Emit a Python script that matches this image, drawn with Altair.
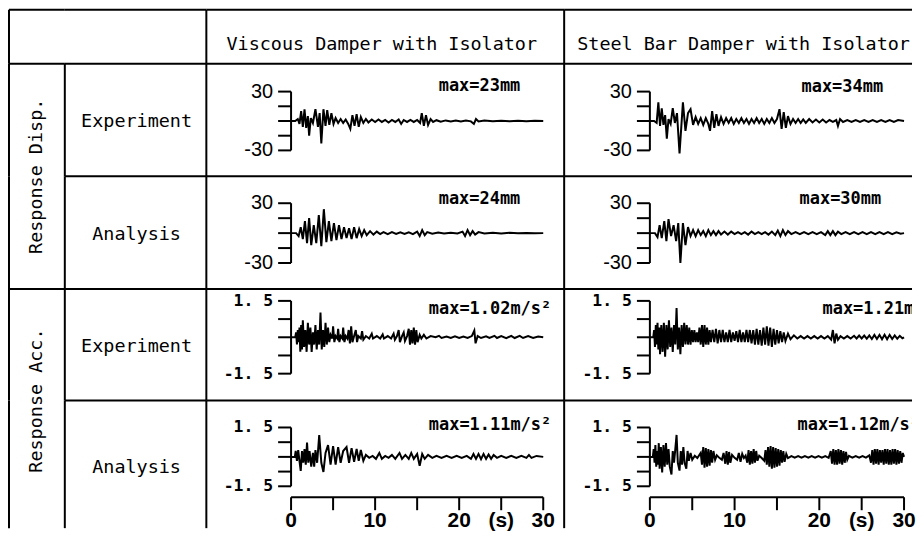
import altair as alt
import pandas as pd

# ---------------- data ----------------
col_titles = ["Viscous Damper with Isolator", "Steel Bar Damper with Isolator"]
group_titles = ["Response Disp.", "Response Acc."]
row_titles = ["Experiment", "Analysis"]

disp_ticks = [-30, -15, 0, 15, 30]
disp_tick_labels = ["-30", "", "", "", "30"]
acc_ticks = [-1.5, -0.75, 0, 0.75, 1.5]
acc_tick_labels = ["-1. 5", "", "", "", "1. 5"]
time_ticks = [0, 5, 10, 15, 20, 25, 30]
time_labels = ["0", "", "10", "", "20", "(s)", "30"]

max_text = [["max=23mm", "max=34mm"],
            ["max=24mm", "max=30mm"],
            ["max=1.02m/s²", "max=1.21m/s²"],
            ["max=1.11m/s²", "max=1.12m/s²"]]

# (time s, value) — displacement in mm
disp_visc_exp = [(0,0),(0.5,0),(0.8,2),(1.0,-3),(1.2,10),(1.4,-6),(1.6,12),(1.8,-7),(2.0,5),(2.15,-15),(2.35,3),(2.6,-2),(2.9,12),(3.2,-6),(3.4,8),(3.6,-23),(3.85,12),(4.1,-5),(4.3,11),(4.55,-4),(4.8,8),(5.05,-3),(5.3,3),(5.6,-2),(5.9,2),(6.2,-2),(6.5,1.5),(6.8,-3),(7.05,-8),(7.3,6),(7.55,-5),(7.8,7),(8.05,-6),(8.3,4),(8.6,-2),(8.9,2),(9.2,-1.5),(9.6,1.5),(10.0,-1),(10.4,1.5),(10.8,-1),(11.2,1),(11.6,-1.5),(12.0,1),(12.4,-1),(12.8,1.5),(13.1,-3),(13.4,1),(13.8,-1),(14.2,1),(14.6,-1),(15.0,1),(15.35,-2),(15.55,8),(15.8,-5),(16.05,6),(16.3,-4),(16.6,2),(16.9,-1),(17.3,0.8),(17.8,-0.8),(18.4,0.6),(19.0,-0.5),(19.6,0.5),(20.2,-0.5),(20.8,0.4),(21.4,-0.4),(21.75,-3),(22.0,2),(22.3,-0.5),(23.0,0.4),(24.0,-0.3),(25.0,0.3),(26.0,-0.3),(27.0,0.3),(28.0,-0.2),(29.0,0.2),(30.0,0)]

disp_steel_exp = [(0,0),(0.5,0),(0.8,-2),(1.0,19),(1.2,-5),(1.4,13),(1.6,-4),(1.8,6),(2.0,-18),(2.2,2),(2.45,-3),(2.7,13),(2.95,-2),(3.2,8),(3.5,-33),(3.9,19),(4.2,-10),(4.5,8),(4.8,12),(5.1,-4),(5.4,4),(5.7,-3),(6.0,3),(6.3,-4),(6.6,3),(6.9,-3),(7.1,-10),(7.35,10),(7.6,-7),(7.85,7),(8.1,-5),(8.4,4),(8.7,-3),(9.0,3),(9.3,-2),(9.6,3),(9.9,-3),(10.2,2),(10.5,-2),(10.8,3),(11.1,-2),(11.4,2),(11.7,-3),(12.0,2),(12.3,-2),(12.6,3),(12.9,-2),(13.2,2),(13.5,-3),(13.8,2),(14.1,-2),(14.4,3),(14.7,-2),(15.0,2),(15.3,12),(15.55,-8),(15.8,9),(16.05,-7),(16.3,5),(16.6,-3),(16.9,2),(17.2,-2),(17.5,2),(17.8,-2),(18.1,1.5),(18.4,-2),(18.8,2),(19.2,-1.5),(19.6,1.5),(20.0,-1.5),(20.4,1.5),(20.8,-1.5),(21.2,1),(21.6,-1),(22.0,1),(22.2,-5),(22.45,2),(22.8,-1),(23.3,1),(23.8,-1),(24.3,1),(24.8,-1),(25.3,1),(25.8,-1),(26.3,1),(26.8,-1),(27.3,1),(27.8,-1),(28.3,1),(28.8,-1),(29.3,1),(30.0,0)]

disp_visc_ana = [(0,0),(0.6,0),(0.9,-3),(1.15,6),(1.4,-6),(1.65,12),(1.9,-10),(2.15,15),(2.4,-12),(2.7,8),(3.0,-10),(3.3,18),(3.6,-13),(3.9,24),(4.2,-9),(4.5,12),(4.8,-8),(5.1,10),(5.4,-7),(5.7,8),(6.0,-6),(6.3,6),(6.6,-5),(6.9,5),(7.2,-6),(7.5,6),(7.8,-5),(8.1,4),(8.4,-3),(8.7,3),(9.0,-2),(9.4,2),(9.8,-1.5),(10.2,1.5),(10.6,-1),(11.0,1),(11.5,-1),(12.0,1),(12.5,-0.8),(13.0,0.8),(13.5,-0.8),(14.0,0.8),(14.5,-1),(15.0,1.5),(15.3,-3),(15.6,3),(15.9,-2),(16.2,1),(16.8,-0.5),(17.5,0.5),(18.2,-0.4),(19.0,0.4),(19.8,-0.4),(20.4,1.5),(20.7,-3),(21.0,3),(21.3,-2),(21.6,2),(21.9,-1.5),(22.3,1),(23.0,-0.4),(24.0,0.3),(25,-0.3),(26,0.3),(27,-0.2),(28,0.2),(29,-0.2),(30,0)]

disp_steel_ana = [(0,0),(0.6,0),(0.9,-4),(1.15,8),(1.4,-5),(1.7,12),(1.95,-8),(2.2,14),(2.5,-3),(2.8,8),(3.1,-8),(3.35,10),(3.6,-30),(3.9,10),(4.2,-12),(4.5,6),(4.8,-3),(5.1,3),(5.4,-3),(5.7,3),(6.0,-2),(6.3,2),(6.6,-3),(6.9,3),(7.2,-2),(7.5,2),(7.8,-2),(8.1,2),(8.4,-1.5),(8.8,1.5),(9.2,-1.5),(9.6,1.5),(10.0,-1),(10.4,1),(10.8,-1),(11.2,1),(11.6,-1.5),(12.0,1.5),(12.4,-1),(12.8,1),(13.2,-1),(13.6,1),(14.0,-1.5),(14.4,1.5),(14.8,-2),(15.1,2.5),(15.4,-3),(15.7,3),(16.0,-2),(16.3,2),(16.7,-1),(17.2,1),(17.7,-1),(18.2,1),(18.7,-1),(19.2,1),(19.7,-1),(20.2,1),(20.7,-2),(21.0,2),(21.3,-2),(21.6,2),(21.9,-2),(22.2,1.5),(22.6,-1),(23.1,1),(23.6,-1),(24.1,1),(24.6,-1),(25.1,1),(25.6,-1),(26.1,1),(26.6,-1),(27.1,1),(27.6,-1),(28.1,1),(28.6,-1),(29.1,0.8),(29.6,-0.5),(30,0)]

# (time s, value) — acceleration in m/s²
acc_visc_exp = [(0,0),(0.5,0),(0.6,0.2),(0.7,-0.3),(0.8,0.3),(0.9,-0.2),(1.0,0.4),(1.1,-0.6),(1.2,0.5),(1.3,-0.5),(1.4,0.7),(1.55,-0.4),(1.7,0.3),(1.85,-0.6),(2.0,0.6),(2.15,-0.3),(2.3,0.4),(2.45,-0.6),(2.6,0.2),(2.75,-0.3),(2.9,0.5),(3.05,-0.5),(3.2,0.3),(3.35,-0.3),(3.5,1.02),(3.65,-0.5),(3.8,0.3),(3.95,-0.4),(4.1,0.6),(4.25,-0.3),(4.4,0.4),(4.55,-0.2),(4.7,0.1),(4.9,-0.05),(5.0,0.45),(5.15,-0.2),(5.3,0.05),(5.5,-0.05),(5.6,0.35),(5.75,-0.2),(5.9,0.05),(6.1,-0.05),(6.2,0.4),(6.35,-0.2),(6.5,0.05),(6.7,-0.05),(6.85,0.3),(7.0,-0.25),(7.15,0.45),(7.3,-0.2),(7.5,0.05),(7.7,0.3),(7.85,-0.2),(8.0,0.05),(8.3,-0.05),(8.45,0.25),(8.6,-0.1),(8.9,0.05),(9.3,-0.05),(9.6,0.15),(9.75,-0.05),(10.2,0.05),(10.6,-0.05),(10.9,0.12),(11.05,-0.05),(11.5,0.05),(11.9,-0.05),(12.2,0.15),(12.35,-0.1),(12.6,0.05),(12.8,0.3),(12.95,-0.2),(13.2,0.05),(13.4,0.2),(13.55,-0.15),(13.8,0.05),(14.0,0.35),(14.15,-0.3),(14.3,0.3),(14.45,-0.25),(14.6,0.4),(14.75,-0.3),(14.9,0.3),(15.05,-0.2),(15.3,0.1),(15.5,-0.05),(15.8,0.1),(16.1,-0.05),(16.6,0.05),(17.2,0),(17.6,0.06),(17.9,-0.03),(18.5,0.03),(19.0,-0.03),(19.5,0.04),(20.0,-0.03),(20.5,0.03),(21.0,-0.03),(21.5,0.05),(21.8,0.28),(21.95,-0.25),(22.2,0.05),(22.6,-0.03),(23.2,0.04),(23.6,-0.03),(24.2,0.06),(24.5,-0.03),(25.0,0.05),(25.6,-0.04),(26.2,0.06),(26.6,-0.03),(27.2,0.06),(27.6,-0.03),(28.2,0.05),(28.8,-0.03),(29.4,0.03),(30,0)]

acc_steel_exp = [(0,0),(0.4,0),(0.5,0.3),(0.6,-0.4),(0.7,0.5),(0.8,-0.3),(0.9,0.6),(1.0,-0.5),(1.1,0.4),(1.2,-0.7),(1.35,0.5),(1.5,-0.6),(1.65,0.6),(1.8,-0.8),(1.95,0.5),(2.1,-0.5),(2.25,0.7),(2.4,-0.4),(2.55,0.4),(2.7,-0.6),(2.85,0.5),(3.0,-0.3),(3.15,1.21),(3.3,-0.5),(3.45,0.4),(3.6,-0.7),(3.75,0.5),(3.9,-0.4),(4.05,0.6),(4.2,-0.3),(4.35,0.5),(4.5,-0.3),(4.65,0.4),(4.8,-0.3),(4.95,0.3),(5.1,-0.2),(5.25,0.3),(5.4,-0.2),(5.55,0.2),(5.7,-0.2),(5.85,0.4),(6.0,-0.3),(6.15,0.5),(6.3,-0.4),(6.45,0.5),(6.6,-0.3),(6.75,0.4),(6.9,-0.3),(7.05,0.3),(7.2,-0.2),(7.4,0.3),(7.6,-0.2),(7.8,0.35),(8.0,-0.25),(8.2,0.3),(8.4,-0.2),(8.6,0.3),(8.8,-0.2),(9.0,0.2),(9.2,-0.2),(9.4,0.3),(9.6,-0.2),(9.8,0.2),(10.0,-0.15),(10.2,0.25),(10.4,-0.2),(10.6,0.3),(10.8,-0.2),(11.0,0.2),(11.2,-0.2),(11.4,0.3),(11.6,-0.2),(11.8,0.3),(12.0,-0.25),(12.2,0.3),(12.4,-0.3),(12.6,0.35),(12.8,-0.3),(13.0,0.3),(13.2,-0.35),(13.4,0.4),(13.6,-0.3),(13.8,0.45),(14.0,-0.35),(14.2,0.4),(14.4,-0.4),(14.6,0.35),(14.8,-0.3),(15.0,0.3),(15.2,-0.25),(15.4,0.25),(15.6,-0.2),(15.8,0.2),(16.0,-0.15),(16.3,0.15),(16.6,-0.08),(17.0,0.08),(17.4,-0.05),(17.8,0.05),(18.2,-0.05),(18.6,0.05),(19.0,-0.05),(19.4,0.05),(19.8,-0.05),(20.2,0.05),(20.6,-0.05),(21.0,0.05),(21.4,-0.1),(21.6,0.3),(21.8,-0.25),(22.0,0.15),(22.2,-0.1),(22.5,0.05),(22.9,-0.05),(23.3,0.05),(23.7,-0.05),(24.1,0.06),(24.4,-0.05),(24.7,0.07),(25.0,-0.05),(25.3,0.07),(25.6,-0.06),(25.9,0.08),(26.2,-0.07),(26.5,0.1),(26.8,-0.07),(27.1,0.1),(27.4,-0.08),(27.7,0.1),(28.0,-0.08),(28.3,0.1),(28.6,-0.07),(28.9,0.08),(29.2,-0.06),(29.5,0.06),(29.8,-0.04),(30,0)]

acc_visc_ana = [(0,0),(0.45,0),(0.55,0.3),(0.7,-0.2),(0.85,0.35),(1.0,-0.2),(1.15,-0.72),(1.3,0.3),(1.45,-0.3),(1.6,0.4),(1.75,-0.4),(1.9,0.73),(2.05,-0.3),(2.2,0.3),(2.4,-0.5),(2.6,0.2),(2.75,-0.5),(2.9,0.35),(3.1,-0.3),(3.35,1.11),(3.6,-0.3),(3.85,-0.77),(4.1,0.2),(4.4,0.6),(4.7,-0.4),(5.0,0.55),(5.3,-0.4),(5.6,0.5),(5.9,-0.3),(6.2,0.3),(6.6,0.5),(6.9,-0.3),(7.2,0.45),(7.5,-0.25),(7.8,0.4),(8.05,-0.2),(8.3,0.35),(8.6,-0.2),(8.9,0.1),(9.3,-0.05),(9.7,0.05),(10.1,-0.1),(10.5,0.2),(10.8,-0.1),(11.2,0.05),(11.6,-0.05),(12.0,0.1),(12.4,-0.1),(12.9,0.2),(13.2,-0.1),(13.6,0.1),(14.0,-0.1),(14.3,0.2),(14.6,-0.1),(15.0,0.15),(15.3,-0.45),(15.6,0.15),(15.9,-0.1),(16.3,0.1),(16.8,-0.05),(17.3,0.05),(17.9,-0.05),(18.5,0.05),(19.1,-0.05),(19.7,0.05),(20.3,-0.05),(20.9,0.05),(21.4,-0.1),(21.7,0.15),(22.0,-0.1),(22.3,0.15),(22.6,-0.12),(22.9,0.15),(23.2,-0.1),(23.5,0.12),(23.8,-0.1),(24.1,0.1),(24.5,-0.05),(25.0,0.05),(25.6,-0.05),(26.2,0.05),(26.8,-0.05),(27.4,0.05),(28.0,-0.05),(28.3,0.1),(28.6,-0.05),(29.2,0.05),(30,0)]

acc_steel_ana = [(0,0),(0.35,0),(0.45,0.4),(0.55,-0.3),(0.65,0.6),(0.75,-0.5),(0.85,0.3),(0.95,-0.4),(1.05,0.7),(1.15,-0.6),(1.3,0.5),(1.45,-0.8),(1.6,0.6),(1.75,-0.5),(1.9,0.7),(2.05,-0.4),(2.2,0.4),(2.35,-0.5),(2.55,-0.9),(2.7,0.3),(2.85,-0.3),(3.0,0.4),(3.15,1.12),(3.3,-0.3),(3.5,-0.7),(3.65,0.3),(3.8,-0.4),(3.95,0.5),(4.1,-0.3),(4.3,-0.6),(4.45,0.3),(4.6,-0.2),(4.8,0.2),(5.0,-0.15),(5.3,0.06),(5.6,-0.06),(5.85,0.1),(6.0,0.2),(6.15,-0.4),(6.3,0.5),(6.45,-0.55),(6.6,0.45),(6.75,-0.5),(6.9,0.4),(7.05,-0.45),(7.2,0.35),(7.35,-0.3),(7.5,0.3),(7.7,-0.15),(7.9,0.08),(8.2,-0.05),(8.5,-0.15),(8.7,0.2),(8.9,-0.35),(9.05,0.3),(9.2,-0.4),(9.35,0.25),(9.5,-0.3),(9.7,0.1),(10.0,-0.05),(10.3,-0.15),(10.5,0.2),(10.7,-0.25),(10.9,0.15),(11.1,-0.06),(11.3,0.06),(11.5,-0.3),(11.65,0.35),(11.8,-0.4),(11.95,0.3),(12.1,-0.35),(12.25,0.4),(12.4,-0.3),(12.55,0.3),(12.7,-0.2),(12.9,0.06),(13.2,-0.06),(13.5,-0.2),(13.65,0.35),(13.8,-0.4),(13.95,0.5),(14.1,-0.5),(14.25,0.55),(14.4,-0.6),(14.55,0.5),(14.7,-0.55),(14.85,0.45),(15.0,-0.5),(15.15,0.4),(15.3,-0.45),(15.45,0.35),(15.6,-0.3),(15.75,0.3),(15.9,-0.25),(16.1,0.15),(16.3,-0.06),(16.7,0.04),(17.1,-0.04),(17.5,0.04),(17.9,-0.04),(18.3,0.04),(18.7,-0.04),(19.1,0.04),(19.5,-0.04),(19.9,0.04),(20.3,-0.04),(20.7,0.04),(21.1,-0.05),(21.35,0.3),(21.5,-0.35),(21.65,0.4),(21.8,-0.4),(21.95,0.35),(22.1,-0.4),(22.25,0.4),(22.4,-0.35),(22.55,0.35),(22.7,-0.4),(22.85,0.3),(23.0,-0.3),(23.15,0.25),(23.3,-0.15),(23.5,0.05),(23.9,-0.04),(24.3,0.04),(24.7,-0.04),(25.1,0.04),(25.5,-0.04),(25.9,0.08),(26.1,-0.3),(26.25,0.35),(26.4,-0.4),(26.55,0.4),(26.7,-0.35),(26.85,0.4),(27.0,-0.4),(27.15,0.35),(27.3,-0.3),(27.45,0.35),(27.6,-0.4),(27.75,0.4),(27.9,-0.35),(28.05,0.4),(28.2,-0.4),(28.35,0.35),(28.5,-0.4),(28.65,0.4),(28.8,-0.35),(28.95,0.4),(29.1,-0.4),(29.25,0.35),(29.4,-0.35),(29.55,0.3),(29.7,-0.3),(29.85,0.2),(30,0)]

series = [[disp_visc_exp, disp_steel_exp],
          [disp_visc_ana, disp_steel_ana],
          [acc_visc_exp, acc_steel_exp],
          [acc_visc_ana, acc_steel_ana]]

# ---------------- layout / style ----------------
INK = "#000000"
LW = 2
MONO = "DejaVu Sans Mono"
NARROW = "Liberation Sans Narrow, Liberation Sans, sans-serif"

COLW = [56, 142, 359, 349]
HEAD_H = 54
ROW_H = [113, 113, 112, 128]
P0 = [85, 86]      # pixel of t=0 inside a waveform cell
P30 = [338, 341]   # pixel of t=30
YPX = [(28, 87), (27, 87), (12, 85), (27, 86)]   # pixel of +max / -max per row
ANN = [[(315, 22), (320, 23)], [(315, 23), (318, 23)],
       [(346, 20), (382, 20)], [(346, 25), (357, 25)]]
XAXIS_PX = 97
TICK = 13
ROWLBL_Y = [58, 58, 57, 67]
GROUP_Y = [113, 112]

one = pd.DataFrame({"k": [0]})


def borders(W, H, top=True, left=True):
    out = []
    if top:
        out.append(alt.Chart(one).mark_rule(color=INK, strokeWidth=LW).encode(
            x=alt.value(0), x2=alt.value(W), y=alt.value(0)))
    if left:
        out.append(alt.Chart(one).mark_rule(color=INK, strokeWidth=LW).encode(
            x=alt.value(0), y=alt.value(0), y2=alt.value(H)))
    return out


def text_cell(label, W, H, x=0, y=0, angle=0, top=True, left=True):
    layers = borders(W, H, top, left)
    if label:
        d = pd.DataFrame({"label": [label]})
        layers.append(alt.Chart(d).mark_text(
            font=MONO, fontSize=18.5, angle=angle, color=INK,
            align="center", baseline="middle").encode(
            x=alt.value(x), y=alt.value(y), text="label:N"))
    return alt.layer(*layers).properties(width=W, height=H)


def wave_cell(r, c):
    W, H = COLW[2 + c], ROW_H[r]
    p0, p30 = P0[c], P30[c]
    disp = r < 2
    ticks = disp_ticks if disp else acc_ticks
    labs = disp_tick_labels if disp else acc_tick_labels
    ymax = ticks[-1]
    k = 30.0 / (p30 - p0)
    xdom = [-p0 * k, (W - p0) * k]
    ytop, ybot = YPX[r]
    u = 2 * ymax / (ybot - ytop)
    ydom = [-ymax - (H - ybot) * u, ymax + ytop * u]
    xs = alt.Scale(domain=xdom, nice=False, zero=False)
    ys = alt.Scale(domain=ydom, nice=False, zero=False)

    def X0():
        return alt.XDatum(0, type="quantitative", scale=xs, axis=None)

    df = pd.DataFrame(series[r][c], columns=["t", "v"])
    line = alt.Chart(df).mark_line(color=INK, strokeWidth=2, clip=True).encode(
        x=alt.X("t:Q", scale=xs, axis=None),
        y=alt.Y("v:Q", scale=ys, axis=None))

    # y "bracket" axis: spine, ticks pointing left, labels at the ends
    spine = alt.Chart(one).mark_rule(color=INK, strokeWidth=2).encode(
        x=X0(),
        y=alt.YDatum(ticks[0], type="quantitative", scale=ys, axis=None),
        y2=alt.Y2Datum(ticks[-1]))
    tdf = pd.DataFrame({"v": ticks, "lab": labs})
    yt = alt.Chart(tdf).mark_rule(color=INK, strokeWidth=2, x2Offset=-TICK).encode(
        x=X0(), x2=alt.X2Datum(0), y=alt.Y("v:Q", scale=ys, axis=None))
    if disp:
        lfont, lsize, lweight = NARROW, 20, "normal"
    else:
        lfont, lsize, lweight = MONO, 16.5, "bold"
    yl = alt.Chart(tdf).mark_text(color=INK, font=lfont, fontSize=lsize, fontWeight=lweight,
                                  align="right", baseline="middle", dx=-(TICK + 5)).encode(
        x=X0(), y=alt.Y("v:Q", scale=ys, axis=None), text="lab:N")

    ax, ay = ANN[r][c]
    ann = alt.Chart(pd.DataFrame({"label": [max_text[r][c]]})).mark_text(
        font=MONO, fontSize=17, fontWeight="bold", color=INK, align="right",
        baseline="middle", clip=True).encode(
        x=alt.value(ax), y=alt.value(ay), text="label:N")
    layers = [line, spine, yt, yl, ann]

    if r == 3:
        xdf = pd.DataFrame({"t": time_ticks, "lab": time_labels})
        layers.append(alt.Chart(one).mark_rule(color=INK, strokeWidth=2).encode(
            x=alt.XDatum(time_ticks[0], type="quantitative", scale=xs, axis=None),
            x2=alt.X2Datum(time_ticks[-1]),
            y=alt.value(XAXIS_PX)))
        layers.append(alt.Chart(xdf).mark_rule(color=INK, strokeWidth=2).encode(
            x=alt.X("t:Q", scale=xs, axis=None),
            y=alt.value(XAXIS_PX), y2=alt.value(XAXIS_PX + TICK)))
        layers.append(alt.Chart(xdf).mark_text(
            color=INK, font=NARROW, fontSize=21, fontWeight="bold",
            align="center", baseline="alphabetic").encode(
            x=alt.X("t:Q", scale=xs, axis=None),
            y=alt.value(XAXIS_PX + 30), text="lab:N"))
    layers += borders(W, H)
    return alt.layer(*layers).properties(width=W, height=H)


cells = [
    text_cell("", COLW[0], HEAD_H),
    text_cell("", COLW[1], HEAD_H, left=False),
    text_cell(col_titles[0], COLW[2], HEAD_H, 176, 34),
    text_cell(col_titles[1], COLW[3], HEAD_H, 180, 34),
]
for r in range(4):
    g, first = r // 2, r % 2 == 0
    if first:
        cells.append(text_cell(group_titles[g], COLW[0], ROW_H[r], COLW[0] / 2 - 1,
                               GROUP_Y[g], angle=270))
    else:
        cells.append(text_cell("", COLW[0], ROW_H[r], top=False))
    cells.append(text_cell(row_titles[r % 2], COLW[1], ROW_H[r], COLW[1] / 2 + 1, ROWLBL_Y[r]))
    cells.append(wave_cell(r, 0))
    cells.append(wave_cell(r, 1))

chart = alt.concat(*cells, columns=4, spacing=0, bounds="flush").properties(
    padding={"left": 0, "top": 0, "right": 0, "bottom": 0}, background="white"
).configure_view(stroke=None)

chart.save("out.html", embed_options={"renderer": "svg", "actions": False})
